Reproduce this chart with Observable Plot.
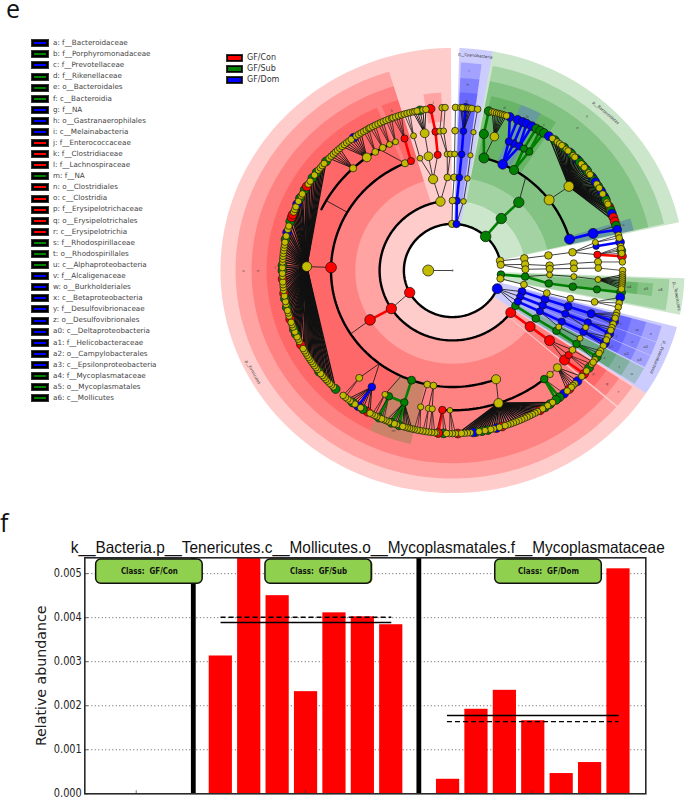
<!DOCTYPE html>
<html><head><meta charset="utf-8">
<script src="https://cdn.jsdelivr.net/npm/d3@7"></script>
<script src="https://cdn.jsdelivr.net/npm/@observablehq/plot@0.6"></script>
<style>
html,body{margin:0;padding:0;background:#fff}
#page{position:relative;width:685px;height:799px;overflow:hidden;font-family:"DejaVu Sans",sans-serif}
#top,#bottom{position:absolute;left:0}
#top{top:0}#bottom{top:510px}
.panel{position:absolute;font-family:"Open Sans",sans-serif;font-size:25px;color:#111}
.leg{position:absolute;white-space:nowrap}
.sw{position:absolute;background:#000;border:1px solid #333;box-sizing:border-box}
.sw i{position:absolute;display:block}
</style></head><body>
<div id="page">
<div id="top"></div><div id="bottom"></div>
<div class="panel" style="left:6px;top:1px;line-height:15px">e</div>
<div class="panel" style="left:0;top:511px;line-height:23px">f</div>
</div>
<script>
// ---------- legend of the cladogram ----------
const cladeNames = ["a: f__Bacteroidaceae","b: f__Porphyromonadaceae","c: f__Prevotellaceae","d: f__Rikenellaceae","e: o__Bacteroidales","f: c__Bacteroidia","g: f__NA","h: o__Gastranaerophilales","i: c__Melainabacteria","j: f__Enterococcaceae","k: f__Clostridiaceae","l: f__Lachnospiraceae","m: f__NA","n: o__Clostridiales","o: c__Clostridia","p: f__Erysipelotrichaceae","q: o__Erysipelotrichales","r: c__Erysipelotrichia","s: f__Rhodospirillaceae","t: o__Rhodospirillales","u: c__Alphaproteobacteria","v: f__Alcaligenaceae","w: o__Burkholderiales","x: c__Betaproteobacteria","y: f__Desulfovibrionaceae","z: o__Desulfovibrionales","a0: c__Deltaproteobacteria","a1: f__Helicobacteraceae","a2: o__Campylobacterales","a3: c__Epsilonproteobacteria","a4: f__Mycoplasmataceae","a5: o__Mycoplasmatales","a6: c__Mollicutes"];
const cladeClasses = ["b","g","b","g","g","g","b","b","b","r","r","r","g","r","r","r","r","r","g","g","g","b","b","b","b","b","b","b","b","b","g","g","g"];
const groupNames = ["GF/Con","GF/Sub","GF/Dom"];
const groupClasses = ["r","g","b"];
const palette = {r:"#ff0000",g:"#008000",b:"#0000ff",y:"#c2bb00"};

// ---------- shaded sectors: from angle, to angle, inner level, outer level, class ----------
const sectors = [
 [123.5,359.6,2,9.55,"r"],[131,343,3,8.93,"r"],[131,343,4,8.27,"r"],[206.5,336,5,7.65,"r"],
 [124,130.5,3,8.93,"r"],[124,130.5,4,8.27,"r"],[124,130.5,5,7.65,"r"],
 [337.5,343,5,7.65,"r"],[351,356.5,6.4,7.65,"r"],[193,206.5,5,7.65,"g"],
 [1.7,10,2,9.55,"b"],[2.2,7.7,3,8.93,"b"],[2.2,7.7,4,8.27,"b"],[2.2,7.7,5,7.65,"b"],
 [10,77.5,2,9.55,"g"],[10.7,77,3,8.93,"g"],[10.7,77,4,8.27,"g"],
 [12,21.5,5,7.65,"g"],[21.5,28.3,5,7.65,"b"],[28.3,33.8,5,7.65,"g"],[73,77,5,7.65,"b"],
 [92,101.5,2,9.55,"g"],[92.4,101,3,8.93,"g"],[93.8,97.6,4,8.27,"g"],[93.8,97.6,5,7.65,"g"],
 [104.7,123.5,2,9.55,"b"],
 [105.5,110,3,8.93,"b"],[105.5,110,4,8.27,"b"],[105.5,110,5,7.65,"b"],
 [110.2,114,3,8.93,"b"],[110.2,114,4,8.27,"b"],[110.2,114,5,7.65,"b"],
 [114.2,117.6,3,8.93,"b"],[114.2,117.6,4,8.27,"b"],[114.2,117.6,5,7.65,"b"],
 [118,123,3,8.93,"g"],[118,123,4,8.27,"g"],[118,123,5,7.65,"g"]
];
// ---------- thick arcs: level, from angle, to angle ----------
const arcs = [[2,113,438],[3,127,350.5],[5,159,340],[5,15,74.4],[6,141,184],[6,296,324],[6,324,337]];
// ---------- inner tree nodes: level, angle, parent angle, class, coloured link, radius, parent level ----------
const treeNodes = [
 [1,270,0,"y",0,5.5,0],
 [2,241.8,null,"r",0,5.2],[2,113,null,"b",0,5],[2,43,null,"g",0,5.3],[2,78,null,"y",0,3.8],[2,83,null,"y",0,3.6],[2,95,null,"g",0,3.8],[2,100,null,"y",0,3.6],[2,359.5,null,"y",0,3.6],[2,4.7,null,"b",0,3.6],
 [3,237,241.8,"r",0,5.2],[3,127,null,"r",0,5],[3,350.5,null,"y",0,4.7],[3,0,359.5,"y",0,3.4],
 [4,238,237,"r",1,5.3],[5,237,238,null,0,0],
 [5,271.5,null,"r",0,5.4],[6,271.6,271.5,"y",0,4.9],
 [4,127,127,"r",1,5],[5,127,127,"r",1,5],[6,129.8,127,"r",0,5],[6,127.2,127,"r",0,3.6],[6,124.6,127,"y",0,3.4],
 [4,348.5,350.5,"y",0,4.6],[4,357,350.5,"y",0,3.4],[4,1,0,"y",0,3.4],
 [5,344.5,348.5,"y",0,2.9],[5,348.6,348.5,"y",0,4.4],[5,353,348.5,"r",0,3.6],[5,357.5,357,"y",0,3],[5,359,357,"y",0,3],[5,1,1,"y",0,3],
 [6,344.5,344.5,"y",0,3],[6,349,348.6,"y",0,4.4],[6,353.3,353,"r",1,3.6],[6,355,357.5,"y",0,3],[6,356.5,357.5,"y",0,3],[6,1,1,"y",0,3.4],
 [5,337,null,"y",0,3.6],[5,340,null,"r",0,3.6],[6,340.8,340,"r",1,3.6],[5,300,null,null,0,0],[6,300,300,null,0,0],[6,330,337,null,0,0],
 [6,317,null,"y",0,3.6],[6,324,null,"y",0,4.4],[6,328,null,"y",0,3.4],[6,331.4,null,"y",0,3.4],[6,334.4,null,"y",0,3],[6,337,null,"y",0,3],
 [5,159,null,"y",0,4.6],[6,161.6,159,"y",0,4.6],[6,141,null,"g",0,3.8],[6,138,141,"y",0,3.2,6],[6,134,141,"y",0,4,6],
 [5,199.7,null,"g",0,4],[5,192,null,"y",0,3.4],[5,189,null,"y",0,3.4],
 [6,199.3,199.7,"g",1,3.8],[6,205.9,199.3,"g",1,3.8,6],[6,207.6,205,"y",0,3,5],[6,192.6,192,"y",0,3.1],[6,189.5,189,"y",0,3.1],[6,188,189,"y",0,3.1],
 [6,184,null,"r",0,3.7],[6,181,null,"y",0,2.8],[6,213.6,217,"b",0,3.8],[6,219.8,217,"y",0,3.5],
 [3,42,43,"g",1,5.2],[4,43,42,"g",1,5.2],[5,37,43,null,0,0],
 [5,15,null,"g",0,5],[5,24.4,null,"b",0,4.8],[5,30.4,null,"g",0,4.6],[5,52.7,null,"y",0,5],[5,74.4,null,"b",0,5],
 [6,12.4,15,"g",1,4.6],[6,16.7,15,"y",0,4.3],[6,22.7,24.4,"b",1,3.6],[6,24.8,24.4,"b",1,3.8],[6,27.3,24.4,"b",1,3.8],[6,29.3,30.4,"g",1,3.6],[6,31.7,30.4,"g",1,3.8],[6,53,52.7,"y",0,5],[6,74.6,74.4,"b",1,5],
 [3,3.4,4.7,"b",1,3.6],[4,4,3.4,"b",1,3.4],[5,4.3,4,"b",1,3.4],[6,4.3,4.3,"b",1,3.4],
 [3,8.7,4.7,"y",0,2.8],[4,8.8,8.7,"y",0,2.8],[5,8.5,8.8,"y",0,2.6],[6,8.3,8.5,"y",0,2.6],
 [3,80,78,"y",0,3.8],[4,80.7,80,"y",0,3.8],[5,81,80.7,"y",0,3.8],[6,78.4,81,"y",0,3],[6,80,81,"b",0,3.2],[6,83.5,81,"r",0,3.6],
 [3,85,83,"y",0,3.8],[4,87,85,"y",0,3.8],[5,86.5,87,"y",0,3.6],[6,86.5,86.5,"y",0,3.6],
 [3,89,83,"y",0,3.6],[4,89,89,"y",0,3.6],[5,89,89,"y",0,3.6],[6,89,89,"y",0,3.4],
 [3,95,95,"g",1,3.8],[4,98,95,"g",1,3.8],[5,98,98,"g",1,3.8],[6,97.8,98,"g",1,3.6],
 [4,92.7,95,"y",0,3],[5,93,92.7,"y",0,3],[6,93.7,93,"y",0,3],
 [3,101.6,100,"y",0,3.4],[4,104,101.6,"y",0,3.4],[5,104,104,"y",0,3.4],[6,103,104,"y",0,3.4],
 [3,107.6,113,"b",0,4],[3,112,113,"b",0,3.6],[3,116.4,113,"b",0,3.6],[3,120.4,113,"g",0,3.8],
 [4,108,107.6,"b",1,4],[4,112,112,"b",1,3.8],[4,116,116.4,"b",1,3.6],[4,121,120.4,"g",1,3.8],
 [5,108,108,"b",1,4],[5,111.8,112,"b",1,3.6],[5,116,116,"b",1,3.6],[5,121.2,121,"g",1,3.8],[5,119,116,"y",0,3],
 [6,108,108,"b",1,4],[6,111.8,111.8,"b",1,3.6],[6,116,116,"b",1,3.8],[6,121.7,121.2,"g",1,3.8],[6,114,111.8,"y",0,3],[6,119,119,"y",0,3]
];
// ---------- outer leaves: level of parent, parent angle, leaf angles ----------
const leafFans = [
 [6,271.6,[223.4,224.5,225.4,226.2,227.3,228.1,229,229.9,230.8,231.7,232.6,233.4,234.3,235.2,236.1,237,237.8,238.7,239.6,240.5,241.4,243,244.2,245.1,246,247,247.9,248.8,249.7,250.6,251.5,252.6,253.8,254.9,255.8,256.9,258,259,260,261,261.9,263,264,265,266,267,268,269,270,271,271.8,273,274,275,276,277,278,279,280,281,282.2,283.5,284.6,285.8,287.5,289,290,291,292,293,294,295.1,296.3,297.2,298,299.7,301,302,303.2,304.6,305.8,307,308,309,310,311,312]],
 [6,317,[313.5,314.5,315.5,316.5,317.5,318.5]],
 [6,324,[319.5,320.5,321.5,322.5,323.5,324.5,325.5,326.5,327.5]],
 [6,328,[328.5,329.5,330.5]],[6,331.4,[331,332,333]],[6,334.4,[334,335,336]],[6,337,[337,338,339]],
 [6,340.8,[339.5,340.5,341.5,342.5]],[6,344.5,[343.5,344.5,345.5]],
 [6,349,[346.5,347.2,348,349,350,351]],[6,353.3,[352.6]],[6,355,[356.5]],[6,356.5,[357.5]],[6,1,[1]],
 [6,4.3,[2.8,3.4,4.4,5.2,5.8,6.5]],[6,8.3,[8.5]],
 [6,12.4,[12.3]],[6,16.7,[13.5,14.2,15,15.7,16.4,17.1,17.8,18.5]],
 [6,22.7,[19.7,22.5]],[6,24.8,[24.4]],[6,27.3,[25.8,27.8]],[6,29.3,[29.5]],[6,31.7,[31,32.5]],
 [6,53,[34.5,36,37,38,39,40,41,42,42.8,43.6,44.4,45.2,46,46.8,47.6,48.4,49.2,50,50.8,51.6,52.4,53.2,54,54.8,55.6,56.4,57.2,58,58.8,59.6,60.4,61.2,62,62.8,63.6,64.4,65.2,66,66.8,67.6,68.4,69.6,71,72.5]],
 [6,74.6,[74,75.5]],
 [6,78.4,[77.5,78.5]],[6,80,[80]],[6,83.5,[81.5,82.3,83,84,85]],[6,86.5,[87]],[6,89,[90]],
 [6,93.7,[91.5,92.3,93,93.7,94.4,95.1,95.8,96.5]],[6,97.8,[97.7]],[6,103,[99.5,101.5,103]],
 [6,108,[105,106,107,108.2,109.2]],[6,111.8,[110.5,111.5,112.8]],[6,116,[114,115.2,116.4,117.5]],[6,121.7,[119.5,120.5,122,123.2]],
 [6,127.2,[125,126.6,128]],[6,124.6,[124.2]],[6,129.8,[129.3]],
 [6,134,[130.5,132.7,134,134.9,135.7,136.6,137.6]],[6,141,[139,141,142.5]],
 [6,161.6,[144,145,146,147,148,149,150,151,152,153,154,155,156,157,158,159,160,161,162,163,164,165,166,167,168,169,170,171,172,173,174,175,176,177,178.2]],
 [6,181,[179,180,181]],[6,184,[182,183,184.8,185.5]],
 [6,188,[186,187,188]],[6,189.5,[189,190]],[6,192.6,[191,192,193]],
 [6,199.3,[193.8,194.6,195.4,196.2,197,198.3,199.2,200,201,202,203]],[6,205.9,[203.8,204.6,205.6,206.4]],[6,207.6,[207.2,208.2]],
 [6,213.6,[209,210,211.8,212.7,213.7,215,216,217,218]],[6,219.8,[219,220]]
];
const leavesGreen = [223.4,231.7,247,248.8,256.9,260,270,271.8,281,287.5,296.3,299.7,304.6,307,312,349,12.3,29.5,31,32.5,37,41,44.4,46.8,48.4,50,52.4,54.8,56.4,58.8,60.4,62.8,64.4,66.8,68.4,74,83,97.7,122,126.6,141,142.5,145,147,198.3,201,205.6,216,211.8,183,168,170,172];
const leavesBlue = [283.5,294,324.5,4.4,19.7,22.5,24.4,25.8,27.8,34.5,43.6,47.6,51.6,55.6,57.2,61.2,63.6,69.6,75.5,80,99.5,108.2,112.8,116.4,132.7,139,165,173,213.7];
const leavesRed = [243,252.6,261.9,267,289,290,301,352.6,67.6,71,72.5,85,129.3,136.6,149,163,178.2,184.8,210];
// ---------- small letters in the shading: angle, level, text ----------
const letterAngles = [74.5,25,31,17,40,40,4.5,4.5,4.5,353.8,340,271,199.5,270,270,127.4,127.4,127.4,121,121,121,108.4,108.4,108.4,112.4,112.4,112.4,116.5,116.5,116.5,95.5,95.5,95.5];
const letterLevels = [7.3,7.3,7.3,7.3,8,8.6,7.3,8,8.6,7.3,7.3,7.3,7.3,8,8.6,7.3,8,8.6,7.3,8,8.6,7.3,8,8.6,7.3,8,8.6,7.3,8,8.6,7.3,8,8.6];
const letterTexts = ["a","b","c","d","e","f","g","h","i","j","k","l","m","n","o","p","q","r","s","t","u","v","w","x","y","z","a0","a1","a2","a3","a4","a5","a6"];
const phylumNames = ["p__Firmicutes","p__Bacteroidetes","p__Cyanobacteria","p__Tenericutes","p__Proteobacteria"];
const phylumAngles = [242,43,5.8,96.8,113.8];
const phylumLevels = [9.3,9.26,9.27,9.3,9.25];
const phylumRotate = [60,40,6,80,113];

// ---------- bar panel ----------
const barTitle = "k__Bacteria.p__Tenericutes.c__Mollicutes.o__Mycoplasmatales.f__Mycoplasmataceae";
const subSamples = [4,5,6,7,8,9,10];
const subValues = [0.00313,0.0056,0.0045,0.00232,0.00411,0.00402,0.00384];
const domSamples = [12,13,14,15,16,17,18];
const domValues = [0.00033,0.00192,0.00235,0.00166,0.00046,0.00071,0.00511];
const separators = [3.44,11.38];
const classLabels = ["Class:  GF/Con","Class:  GF/Sub","Class:  GF/Dom"];
const classX1 = [0.02,5.98,14.07];
const classX2 = [3.77,9.72,17.82];
const meanLines = [[4.4,10.41,0.00389],[12.37,18.41,0.00178]];
const medianLines = [[4.4,10.41,0.00401],[12.37,18.41,0.00164]];
const yTicks = [0,0.001,0.002,0.003,0.004,0.005];
const xTicks = [1.43,7.39,15.35];

// ---------- HTML legends ----------
const page = document.getElementById("page");
function swatch(x,y,w,h,cls,bw,bh){
  const s=document.createElement("div");s.className="sw";
  s.style.cssText=`left:${x}px;top:${y-h/2}px;width:${w}px;height:${h}px`;
  const i=document.createElement("i");
  i.style.cssText=`left:${(w-2-bw)/2}px;top:${(h-2-bh)/2}px;width:${bw}px;height:${bh}px;background:${palette[cls]}`;
  s.appendChild(i);page.appendChild(s);
}
function label(x,y,txt,size,color){
  const d=document.createElement("div");d.className="leg";d.textContent=txt;
  d.style.cssText=`left:${x}px;top:${y-size}px;font-size:${size}px;line-height:${size*2}px;color:${color}`;
  page.appendChild(d);
}
cladeNames.forEach((t,i)=>{const y=43.3+11.09*i;swatch(31,y,18,8,cladeClasses[i],12,2);label(53,y,t,7.2,"#444");});
groupNames.forEach((t,i)=>{const y=57.7+11.2*i;swatch(226,y,17,8,groupClasses[i],13,4);label(247,y,t,8,"#333");});

// ---------- geometry helpers ----------
const X=(l,a)=>l*Math.sin(a*Math.PI/180), Y=(l,a)=>l*Math.cos(a*Math.PI/180);
function arcPts(l,a1,a2,id,extra){const n=Math.max(2,Math.ceil(Math.abs(a2-a1)/1.5));const o=[];
  for(let k=0;k<=n;k++){const a=a1+(a2-a1)*k/n;o.push({id,x:X(l,a),y:Y(l,a),...extra});}return o;}
const sectorPts = sectors.flatMap(([a1,a2,r0,r1,c],i)=>[...arcPts(r1,a1,a2,i,{c:palette[c]}),...arcPts(r0,a2,a1,i,{c:palette[c]})]);
const arcData = arcs.flatMap(([l,a1,a2],i)=>arcPts(l,a1,a2,i,{}));
const inner = treeNodes.map(([l,a,p,c,b,r,pl])=>({l,a,p,c,b,r,pl:pl===undefined?l-1:pl,x:X(l,a),y:Y(l,a)}));
const classOf=a=>leavesGreen.includes(a)?"g":leavesBlue.includes(a)?"b":leavesRed.includes(a)?"r":"y";
const leaves = leafFans.flatMap(([pl,pa,as])=>as.map(a=>{const c=classOf(a);const par=inner.find(n=>n.l===pl&&n.a===pa);
  const fw=as.length>=30?1.35:as.length>=6?0.9:0.7;
  return {l:7,a,p:pa,pl,c,b:(par&&par.c===c&&c!=="y")?1:0,fw,r:c==="y"?3.3:4.4,x:X(7,a),y:Y(7,a)};}));
const allNodes=[...inner,...leaves];
const links=allNodes.filter(n=>n.p!==null).map(n=>({x1:X(n.pl,n.p),y1:Y(n.pl,n.p),x2:n.x,y2:n.y,
  color:n.b?palette[n.c]:"#111",w:n.b?2.6:(n.l===7?n.fw:0.8)}));
const dots=[...allNodes.filter(n=>n.c)].sort((a,b)=>(b.c==="y")-(a.c==="y"));
const letters=letterTexts.map((t,i)=>({t,x:X(letterLevels[i],letterAngles[i]),y:Y(letterLevels[i],letterAngles[i])}));
const phyla=phylumNames.map((t,i)=>({t,x:X(phylumLevels[i],phylumAngles[i]),y:Y(phylumLevels[i],phylumAngles[i]),rot:phylumRotate[i]}));

// ---------- cladogram ----------
const clado = Plot.plot({
  width:685,height:510,margin:0,
  style:{background:"transparent",overflow:"visible"},
  x:{domain:[-452/24.3,233/24.3],range:[0,685],axis:null},
  y:{domain:[270/23.3,-240/23.3],range:[0,510],axis:null},
  color:{type:"identity"},r:{type:"identity"},
  marks:[
    Plot.line(sectorPts,{x:"x",y:"y",z:"id",fill:"c",fillOpacity:0.2,stroke:"none",curve:"linear"}),
    Plot.line(arcData,{x:"x",y:"y",z:"id",stroke:"#000",strokeWidth:2.4,curve:"linear"}),
    Plot.link(links,{x1:"x1",y1:"y1",x2:"x2",y2:"y2",stroke:"color",strokeWidth:"w"}),
    Plot.dot(dots,{x:"x",y:"y",r:"r",fill:d=>palette[d.c],stroke:"#111",strokeWidth:0.7}),
    Plot.dot([{x:0,y:0}],{x:"x",y:"y",r:1,fill:"#666"}),
    Plot.text(letters,{x:"x",y:"y",text:"t",fontSize:4,fill:"#444"}),
    Plot.text(phyla,{x:"x",y:"y",text:"t",rotate:"rot",fontSize:4.2,fill:"#333"})
  ]
});
document.getElementById("top").appendChild(clado);

// ---------- bars ----------
const bars=[...subSamples.map((n,i)=>({n,v:subValues[i]})),...domSamples.map((n,i)=>({n,v:domValues[i]}))];
const boxes=classLabels.map((t,i)=>({t,x1:classX1[i],x2:classX2[i],xc:(classX1[i]+classX2[i])/2}));
const barPlot = Plot.plot({
  width:685,height:289,marginLeft:84.3,marginRight:39.7,marginTop:47.3,marginBottom:5.7,
  style:{background:"transparent",overflow:"visible"},
  x:{domain:[-0.38,19.37],axis:null},
  y:{domain:[0,0.00536],axis:null},
  marks:[
    Plot.ruleY(yTicks.slice(1),{stroke:"#333",strokeWidth:0.8,strokeDasharray:"1,2.5",x1:-0.38,x2:19.37}),
    Plot.rectY(bars,{x1:"n",x2:d=>d.n+0.817,y1:0,y2:"v",fill:"#ff0000",clip:true}),
    Plot.ruleX(separators,{y1:0,y2:0.00536,stroke:"#000",strokeWidth:4.8}),
    Plot.ruleX(xTicks,{y1:0,y2:0.00007,stroke:"#333",strokeWidth:0.7}),
    Plot.ruleY(yTicks,{x1:-0.38,x2:-0.25,stroke:"#222",strokeWidth:0.7}),
    Plot.link(meanLines,{x1:d=>d[0],x2:d=>d[1],y1:d=>d[2],y2:d=>d[2],stroke:"#000",strokeWidth:1.4}),
    Plot.link(medianLines,{x1:d=>d[0],x2:d=>d[1],y1:d=>d[2],y2:d=>d[2],stroke:"#000",strokeWidth:1.4,strokeDasharray:"5,3"}),
    Plot.frame({stroke:"#2a2a2a",strokeWidth:1.6}),
    Plot.rect([boxes[1]],{x1:"x1",x2:"x2",y1:0.00477,y2:0.00532,fill:"#6e6e00",rx:5,dx:1.2,dy:0.5}),
    Plot.rect(boxes,{x1:"x1",x2:"x2",y1:0.00477,y2:0.00532,fill:"#8fd14f",stroke:"#111",strokeWidth:1.5,rx:5}),
    Plot.text(boxes,{x:"xc",y:0.00505,text:"t",fontSize:9.5,fill:"#111",fontFamily:"DejaVu Sans",fontWeight:"bold"}),
    Plot.text(yTicks,{x:-0.38,y:d=>d,text:d=>d3.format(".3f")(d),textAnchor:"end",dx:-3,fontSize:11.5,fill:"#222",fontFamily:"DejaVu Sans"}),
    Plot.text([barTitle],{x:9.58,y:0.00548,text:d=>d,lineAnchor:"bottom",fontSize:16.5,fill:"#111",fontFamily:"Liberation Sans"}),
    Plot.text(["Relative abundance"],{x:-1.92,y:0.00268,text:d=>d,rotate:-90,fontSize:14.2,fill:"#222",fontFamily:"DejaVu Sans"})
  ]
});
document.getElementById("bottom").appendChild(barPlot);
// the reference is squeezed sideways: fit text widths while keeping real text
d3.select(barPlot).selectAll("text").each(function(){
  const t=this.textContent; const s=d3.select(this);
  let w=null;
  if(t.startsWith("k__")) w=594;
  else if(t.startsWith("Class")) w=t.endsWith("Dom")?61:57;
  else if(/^0\.\d{3}$/.test(t)) w=28;
  if(w) s.attr("textLength",w).attr("lengthAdjust","spacingAndGlyphs");
});
</script>
</body></html>
